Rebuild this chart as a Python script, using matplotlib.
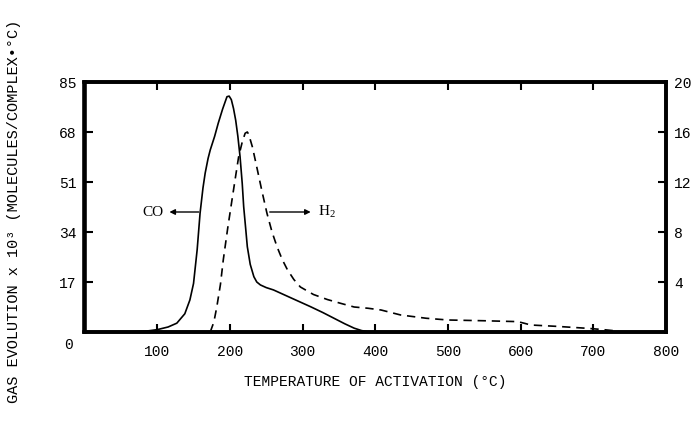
import matplotlib
matplotlib.use("Agg")
import matplotlib.pyplot as plt

# Data
co_temp = [0, 60, 85, 100, 115, 127, 138, 145, 150, 155, 159, 163, 166, 170, 173, 179, 184, 190, 196, 199, 202, 205, 208, 211, 214, 217, 219, 222, 224, 228, 233, 237, 242, 250, 260, 285, 311, 328, 343, 358, 371, 381, 389, 400, 800]
co_vals = [0, 0, 0.3, 0.8, 1.7, 3.0, 6.2, 10.9, 16.5, 28.0, 40.4, 49.0, 54.0, 59.0, 61.9, 66.5, 71.0, 75.8, 80.0, 80.2, 79.0, 76.0, 72.0, 66.5, 59.6, 50.5, 42.6, 34.5, 29.0, 23.0, 18.8, 17.0, 16.0, 15.1, 14.3, 11.5, 8.6, 6.6, 4.7, 2.8, 1.3, 0.5, 0.1, 0, 0]

h2_temp = [173, 178, 182, 187, 191, 197, 203, 208, 212, 217, 221, 224, 226, 231, 237, 244, 251, 258, 265, 272, 279, 288, 297, 315, 334, 352, 371, 390, 408, 435, 470, 500, 550, 596, 605, 614, 650, 693, 712, 729, 737]
h2_vals = [0.0, 0.8, 2.0, 3.8, 5.8, 8.3, 10.6, 12.5, 14.0, 15.2, 15.9, 16.0, 15.8, 14.8, 13.2, 11.3, 9.5, 8.0, 6.8, 5.8, 5.0, 4.2, 3.6, 3.0, 2.6, 2.3, 2.0, 1.9, 1.76, 1.36, 1.1, 0.96, 0.9, 0.83, 0.7, 0.56, 0.45, 0.29, 0.2, 0.1, 0.0]

x_ticks = [100, 200, 300, 400, 500, 600, 700, 800]
left_ticks = [17, 34, 51, 68, 85]
right_ticks = [4, 8, 12, 16, 20]

mono = "Liberation Mono"
serif = "Liberation Serif"

fig = plt.figure(figsize=(6.92, 4.22), dpi=100)
ax = fig.add_axes([84.5 / 692, 90 / 422, (666 - 84.5) / 692, 250 / 422])
ax2 = ax.twinx()

ax.plot(co_temp, co_vals, color="black", lw=1.2)
ax2.plot(h2_temp, h2_vals, color="black", lw=1.2, linestyle=(0, (5, 3.5)))

ax.set_xlim(0, 800)
ax.set_ylim(0, 85)
ax2.set_ylim(0, 20)

ax.set_xticks(x_ticks)
ax.set_xticklabels([str(t) for t in x_ticks], fontfamily=mono, fontsize=10.5)
ax.set_yticks(left_ticks)
ax.set_yticklabels([str(t) for t in left_ticks], fontfamily=mono, fontsize=10.5)
ax2.set_yticks(right_ticks)
ax2.set_yticklabels([str(t) for t in right_ticks], fontfamily=mono, fontsize=10.5)

ax.tick_params(axis="x", direction="in", length=6, width=1.5, top=True, pad=9)
ax.tick_params(axis="y", direction="in", length=6, width=1.5, pad=6)
ax2.tick_params(axis="y", direction="in", length=6, width=1.5, pad=6)

for a in (ax, ax2):
    for s in a.spines.values():
        s.set_linewidth(2.6)
        s.set_color("black")

# corner zero label
ax.text(-22, -4.5, "0", fontfamily=mono, fontsize=10.5, ha="center", va="center")

# annotations
ax.annotate("", xy=(113, 40.8), xytext=(161, 40.8),
            arrowprops=dict(arrowstyle="-|>", color="black", lw=1.0, mutation_scale=8))
ax.text(108, 40.8, "CO", fontfamily=serif, fontsize=11, ha="right", va="center")
ax.annotate("", xy=(315, 40.8), xytext=(251, 40.8),
            arrowprops=dict(arrowstyle="-|>", color="black", lw=1.0, mutation_scale=8))
ax.text(321, 40.8, r"$\mathregular{H_2}$", fontfamily=serif, fontsize=11, ha="left", va="center")

ax.set_xlabel("TEMPERATURE OF ACTIVATION (°C)", fontfamily=mono, fontsize=10.5, labelpad=12)
fig.text(0.02, 0.5, "GAS EVOLUTION x 10³ (MOLECULES/COMPLEX•°C)", fontfamily=mono,
         fontsize=11, rotation=90, ha="center", va="center")

fig.savefig("out.png", dpi=100)
